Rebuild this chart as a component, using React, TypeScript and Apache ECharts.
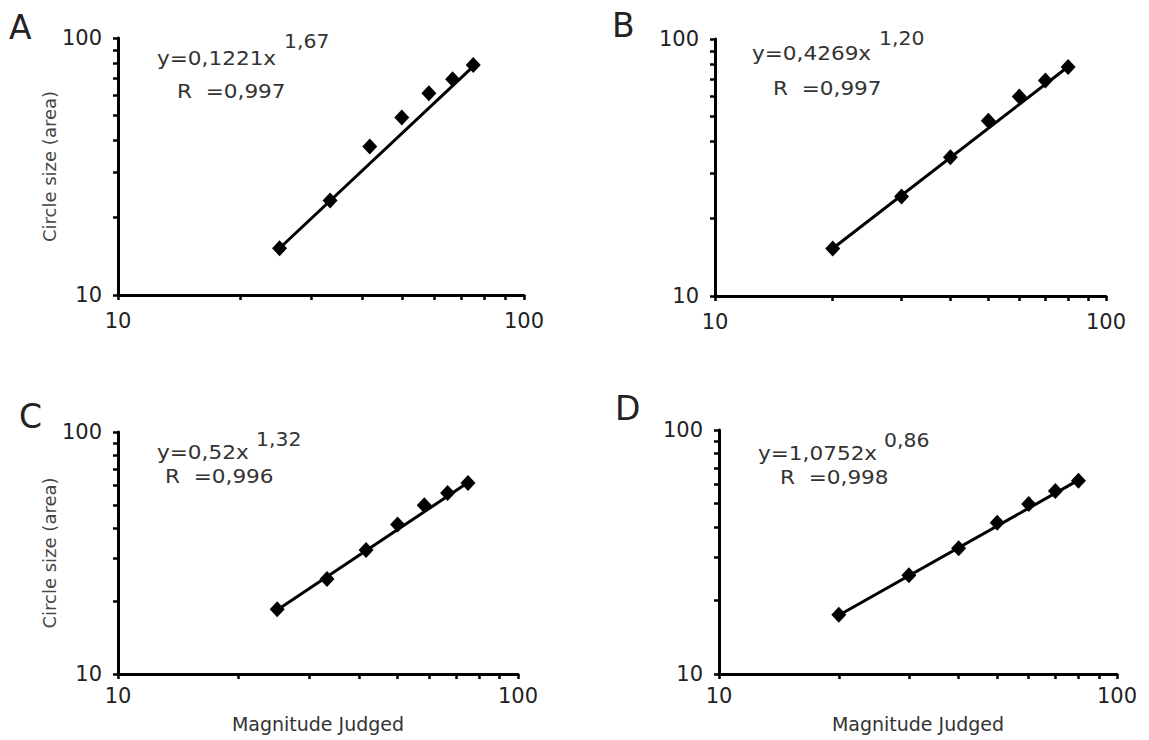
import React, { useEffect, useRef } from "react";
import * as echarts from "echarts";

// ---- data ----
const panelLetters = ["A", "B", "C", "D"];
const eqMain = ["y=0,1221x", "y=0,4269x", "y=0,52x", "y=1,0752x"];
const eqExp = ["1,67", "1,20", "1,32", "0,86"];
const eqR = ["R  =0,997", "R  =0,997", "R  =0,996", "R  =0,998"];

const xA = [25, 33.3, 41.7, 50, 58.3, 66.7, 75];
const yA = [15.2, 23.3, 37.8, 49.1, 60.9, 69.1, 78.5];
const fitA = [[25, 15.2], [75, 77.5]];

const xB = [20, 30, 40, 50, 60, 70, 80];
const yB = [15.3, 24.4, 34.7, 48.1, 59.7, 69.0, 77.8];
const fitB = [[20, 15.3], [80, 78]];

const xC = [25, 33.3, 41.7, 50, 58.3, 66.7, 75];
const yC = [18.5, 24.7, 32.5, 41.5, 49.8, 56.0, 61.6];
const fitC = [[25, 18.4], [75, 61.8]];

const xD = [20, 30, 40, 50, 60, 70, 80];
const yD = [17.5, 25.4, 32.8, 41.7, 49.7, 56.2, 62.0];
const fitD = [[20, 17.4], [80, 62.3]];

const tickValues = [10, 20, 30, 40, 50, 60, 70, 80, 90, 100];
const tickLabels = [10, 100];
const xAxisTitle = "Magnitude Judged";
const yAxisTitle = "Circle size (area)";

const FONT = "DejaVu Sans";

export default function App() {
  const ref = useRef<HTMLDivElement>(null);

  useEffect(() => {
    if (!ref.current) return;
    const chart = echarts.init(ref.current, null, { renderer: "svg" });

    const grids = [
      { left: 118, top: 38, width: 406, height: 257 },
      { left: 715, top: 39, width: 391, height: 257 },
      { left: 118, top: 432, width: 400, height: 242 },
      { left: 719, top: 430, width: 398, height: 244 },
    ];
    const xs = [xA, xB, xC, xD];
    const ys = [yA, yB, yC, yD];
    const fits = [fitA, fitB, fitC, fitD];
    const xLabelMargin = [15, 15, 11, 11];

    const xAxes = grids.map((_, i) => ({
      type: "log",
      logBase: 10,
      gridIndex: i,
      min: 10,
      max: 100,
      axisLine: { show: true, onZero: false, lineStyle: { color: "#000", width: 3 } },
      axisTick: {
        show: true,
        inside: false,
        length: 5,
        customValues: tickValues,
        lineStyle: { color: "#000", width: 2.5 },
      },
      minorTick: { show: false },
      splitLine: { show: false },
      axisLabel: {
        customValues: tickLabels,
        showMinLabel: true,
        showMaxLabel: true,
        margin: xLabelMargin[i],
        fontFamily: FONT,
        fontSize: 21,
        color: "#222",
      },
      name: i >= 2 ? xAxisTitle : "",
      nameLocation: "middle",
      nameGap: 40,
      nameTextStyle: { fontFamily: FONT, fontSize: 19, color: "#333" },
    }));

    const yAxes = grids.map((_, i) => ({
      type: "log",
      logBase: 10,
      gridIndex: i,
      min: 10,
      max: 100,
      axisLine: { show: true, onZero: false, lineStyle: { color: "#000", width: 3 } },
      axisTick: {
        show: true,
        inside: false,
        length: 5,
        customValues: tickValues,
        lineStyle: { color: "#000", width: 2.5 },
      },
      minorTick: { show: false },
      splitLine: { show: false },
      axisLabel: {
        customValues: tickLabels,
        showMinLabel: true,
        showMaxLabel: true,
        margin: 16,
        fontFamily: FONT,
        fontSize: 21,
        color: "#222",
      },
      name: i % 2 === 0 ? yAxisTitle : "",
      nameLocation: "middle",
      nameGap: 40,
      nameRotate: 90,
      nameTextStyle: { fontFamily: FONT, fontSize: 18, color: "#444" },
    }));

    const series: any[] = [];
    grids.forEach((_, i) => {
      series.push({
        type: "line",
        xAxisIndex: i,
        yAxisIndex: i,
        data: fits[i],
        showSymbol: false,
        symbol: "none",
        lineStyle: { color: "#000", width: 3 },
        z: 2,
      });
      series.push({
        type: "scatter",
        xAxisIndex: i,
        yAxisIndex: i,
        data: xs[i].map((x, k) => [x, ys[i][k]]),
        symbol: "diamond",
        symbolSize: [15, 16],
        itemStyle: { color: "#000", opacity: 1 },
        z: 3,
      });
    });

    const letterPos = [
      [9, 27],
      [612, 25],
      [19, 416],
      [615, 408],
    ];
    const mainPos = [
      [157, 58],
      [752, 53],
      [157, 452],
      [758, 453],
    ];
    const expPos = [
      [284, 41],
      [879, 38],
      [256, 439],
      [884, 440],
    ];
    const rPos = [
      [177, 91],
      [773, 88],
      [165, 476],
      [780, 477],
    ];

    const textEl = (text: string, pos: number[], size: number, sx: number, color: string) => ({
      type: "text",
      x: pos[0],
      y: pos[1],
      scaleX: sx,
      style: {
        text,
        fontFamily: FONT,
        fontSize: size,
        fill: color,
        align: "left",
        verticalAlign: "middle",
      },
    });

    const graphic: any[] = [];
    for (let i = 0; i < 4; i++) {
      graphic.push(textEl(panelLetters[i], letterPos[i], 33, 1, "#222"));
      graphic.push(textEl(eqMain[i], mainPos[i], 20, 1.08, "#333"));
      graphic.push(textEl(eqExp[i], expPos[i], 20, 1.02, "#333"));
      graphic.push(textEl(eqR[i], rPos[i], 20, 1.08, "#333"));
    }

    chart.setOption({
      animation: false,
      backgroundColor: "#fff",
      grid: grids,
      xAxis: xAxes,
      yAxis: yAxes,
      series,
      graphic,
    });

    return () => chart.dispose();
  }, []);

  return (
    <div
      ref={ref}
      style={{ position: "absolute", left: 0, top: 0, width: 1149, height: 740 }}
    />
  );
}
